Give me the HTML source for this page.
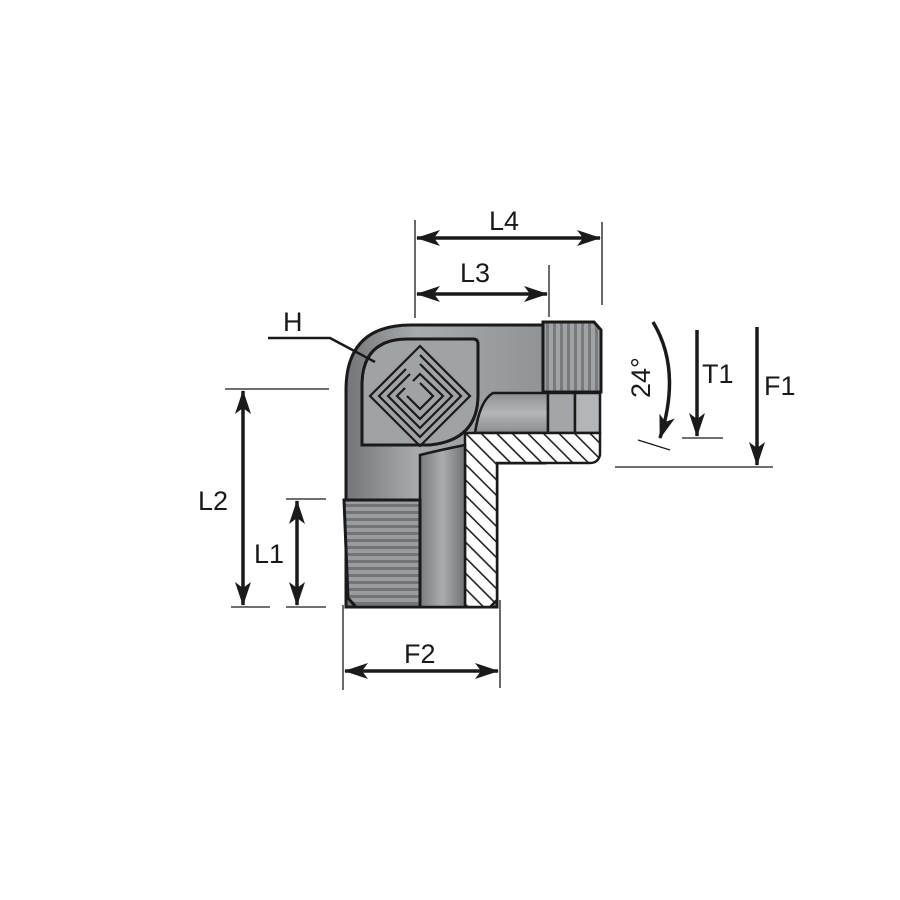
<!DOCTYPE html>
<html><head><meta charset="utf-8"><style>html,body{margin:0;padding:0;background:#fff}svg{display:block}text{font-family:"Liberation Sans",sans-serif;font-size:27px;fill:#1a1a1a}</style></head>
<body>
<svg width="900" height="900" viewBox="0 0 900 900" xmlns="http://www.w3.org/2000/svg">
<defs>
<pattern id="hatch" patternUnits="userSpaceOnUse" width="11" height="11" patternTransform="rotate(-45)">
<rect width="11" height="11" fill="#fff"/><line x1="0" y1="0" x2="0" y2="11" stroke="#222" stroke-width="3.2"/></pattern>
<linearGradient id="bodyV" x1="0" x2="1"><stop offset="0" stop-color="#737578"/><stop offset="0.35" stop-color="#a8aaad"/><stop offset="1" stop-color="#909295"/></linearGradient>
<linearGradient id="bodyH" x1="0" y1="0" x2="0" y2="1"><stop offset="0" stop-color="#8d8f92"/><stop offset="0.5" stop-color="#b4b6b9"/><stop offset="1" stop-color="#8a8c8f"/></linearGradient>
<linearGradient id="bore" x1="0" x2="1"><stop offset="0" stop-color="#7a7c7f"/><stop offset="0.5" stop-color="#aaacaf"/><stop offset="1" stop-color="#707275"/></linearGradient>
<pattern id="thrH" patternUnits="userSpaceOnUse" width="10" height="7"><rect width="10" height="7" fill="#9a9c9f"/><rect y="0" width="10" height="3" fill="#727477"/></pattern>
<pattern id="thrV" patternUnits="userSpaceOnUse" width="7" height="10"><rect width="7" height="10" fill="#a0a2a5"/><rect x="0" width="3" height="10" fill="#787a7d"/></pattern>
<marker id="ah" viewBox="0 0 24 16" refX="23" refY="8" markerWidth="24" markerHeight="16" markerUnits="userSpaceOnUse" orient="auto-start-reverse"><path d="M0,0 L24,8 L0,16 L6,8 Z" fill="#1a1a1a"/></marker>
</defs>

<path d="M346,607 L346,390 Q346,325 411,325 L545,325 L545,463 L497,463 L497,607 Z" fill="url(#bodyV)" stroke="#1a1a1a" stroke-width="3"/>
<path d="M362,445 L362,385 Q362,339 408,339 L473,339 Q478,339 478,344 L478,395 Q478,440 430,445 Z" fill="#a0a2a5" stroke="#1a1a1a" stroke-width="3"/>
<g fill="none" stroke="#1a1a1a" stroke-width="2.2">
<path d="M420,346 L470,396 L420,446 L370,396 Z"/>
<path d="M420,355 L461,396 L420,437 L379,396 L406,369"/>
<path d="M420,364 L452,396 L420,428 L388,396 L410,374"/>
<path d="M413,381 L420,374 L443,396 L420,419 L397,396 L405,388"/>
<path d="M420,383 L433,396 L420,409 L407,396"/>
</g>
<path d="M493,393 L548,393 L548,433 L475,433 Q480,400 493,393 Z" fill="url(#bodyH)" stroke="#1a1a1a" stroke-width="2.5"/>
<rect x="548" y="393" width="27" height="40" fill="#a3a5a8" stroke="#1a1a1a" stroke-width="2.5"/>
<rect x="575" y="393" width="25" height="40" fill="#b3b5b8" stroke="#1a1a1a" stroke-width="2.5"/>
<path d="M543,322 L594,322 L601,330 L601,392 L543,392 Z" fill="url(#thrV)" stroke="#1a1a1a" stroke-width="3"/>
<path d="M465,433 L600,433 L600,455 Q598,463 590,463 L497,463 L497,600 L490,607 L465,607 Z" fill="url(#hatch)" stroke="#1a1a1a" stroke-width="2.5"/>
<path d="M420,607 L420,455 Q440,450 465,445 L465,607 Z" fill="url(#bore)" stroke="#1a1a1a" stroke-width="2.5"/>
<path d="M344,500 L420,500 L420,607 L356,607 L348,598 Z" fill="url(#thrH)" stroke="#1a1a1a" stroke-width="3"/>

<g stroke="#1a1a1a" stroke-width="1.3" fill="none">
<line x1="415" y1="220" x2="415" y2="318"/>
<line x1="602" y1="222" x2="602" y2="305"/>
<line x1="549" y1="265" x2="549" y2="317"/>
<line x1="225" y1="389" x2="329" y2="389"/>
<line x1="231" y1="607" x2="270" y2="607"/>
<line x1="286" y1="499" x2="326" y2="499"/>
<line x1="286" y1="607" x2="326" y2="607"/>
<line x1="343" y1="605" x2="343" y2="690"/>
<line x1="500" y1="600" x2="500" y2="688"/>
<line x1="682" y1="438" x2="723" y2="438"/>
<line x1="615" y1="467" x2="773" y2="467"/>
<line x1="638" y1="440" x2="670" y2="450"/>
</g>
<g stroke="#1a1a1a" stroke-width="3.5" fill="none">
<line x1="417" y1="238" x2="600" y2="238" marker-start="url(#ah)" marker-end="url(#ah)"/>
<line x1="417" y1="294" x2="547" y2="294" marker-start="url(#ah)" marker-end="url(#ah)"/>
<line x1="243" y1="391" x2="243" y2="605" marker-start="url(#ah)" marker-end="url(#ah)"/>
<line x1="297" y1="501" x2="297" y2="605" marker-start="url(#ah)" marker-end="url(#ah)"/>
<line x1="345" y1="671" x2="498" y2="671" marker-start="url(#ah)" marker-end="url(#ah)"/>
<line x1="697" y1="330" x2="697" y2="436" marker-end="url(#ah)"/>
<line x1="757" y1="327" x2="757" y2="465" marker-end="url(#ah)"/>
<path d="M653,322 Q682,370 660,438" marker-end="url(#ah)"/>
<polyline points="268,338 330,338 375,362" stroke-width="2.5"/>
</g>
<text x="489" y="230">L4</text>
<text x="460" y="282">L3</text>
<text x="283" y="331">H</text>
<text x="198" y="510">L2</text>
<text x="254" y="563">L1</text>
<text x="404" y="663">F2</text>
<text x="702" y="383">T1</text>
<text x="764" y="395">F1</text>
<text x="0" y="0" transform="translate(650,398) rotate(-90)">24°</text>
</svg>
</body></html>
